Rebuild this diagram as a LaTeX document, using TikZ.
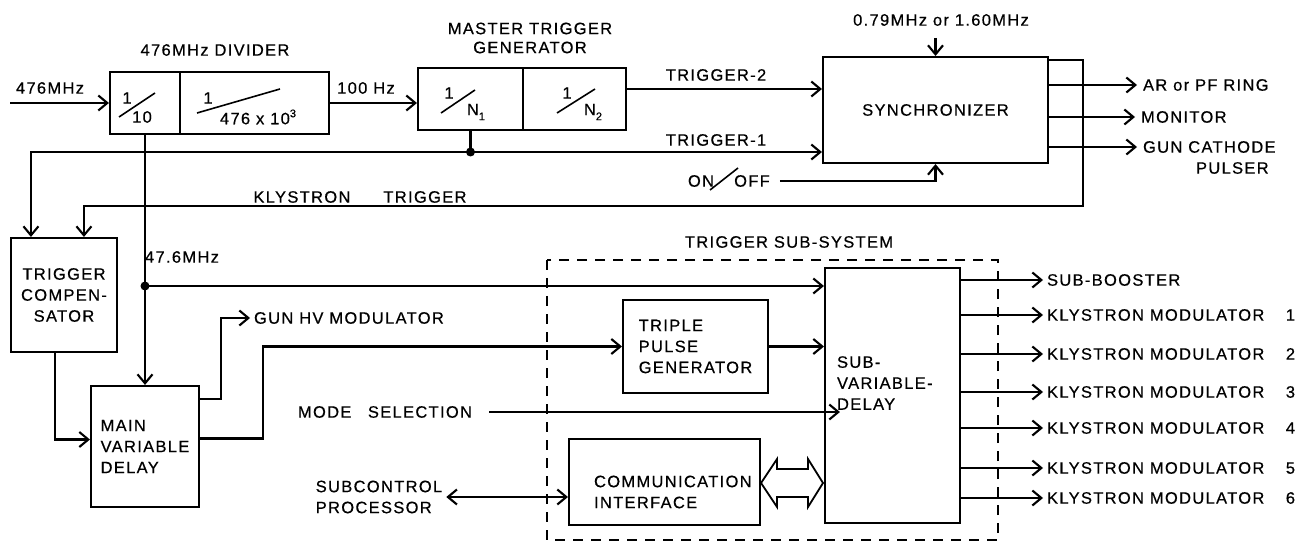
\documentclass[tikz,border=0pt]{standalone}
\usepackage{fontspec}
\setmainfont{Liberation Sans}[LetterSpace=8,FakeBold=0.5]
\usetikzlibrary{arrows.meta,calc}
\begin{document}
\begin{tikzpicture}[x=1pt,y=-1pt,
  line width=2.1pt,
  every node/.style={font=\fontsize{16.5}{21}\selectfont, inner sep=0pt},
  blk/.style={draw, rectangle, inner sep=0pt, align=center},
  arr/.style={-{Straight Barb[length=9pt,width=15pt]}},
  dbl/.style={{Straight Barb[length=9pt,width=15pt]}-{Straight Barb[length=9pt,width=15pt]}},
  lbl/.style={anchor=west},
  frac/.style={line width=1.6pt},
]
\useasboundingbox (0,0) rectangle (1298,545);

% ---- blocks
\node[blk, minimum width=70pt, minimum height=62pt] (divA) at (145,103) {};
\node[blk, minimum width=149pt, minimum height=62pt] (divB) at (254.5,103) {};
\node[blk, minimum width=105pt, minimum height=62pt] (mtgA) at (470.5,99) {};
\node[blk, minimum width=103pt, minimum height=62pt] (mtgB) at (574.5,99) {};
\node[blk, minimum width=225pt, minimum height=106pt] (sync) at (935.5,110) {SYNCHRONIZER};
\node[blk, minimum width=106pt, minimum height=114pt] (tcomp) at (64,295) {TRIGGER\\COMPEN-\\SATOR};
\node[blk, minimum width=108pt, minimum height=121pt, align=left] (mvd) at (145,446.5) {MAIN\\VARIABLE\\DELAY};
\node[blk, minimum width=145pt, minimum height=93pt, align=left] (tpg) at (695.5,346.5) {TRIPLE\\PULSE\\GENERATOR};
\node[blk, minimum width=135pt, minimum height=255pt] (svd) at (892.5,395.5) {};
\node[anchor=west, align=left] (svdt) at (836,383) {SUB-\\VARIABLE-\\DELAY};
\node[blk, minimum width=191pt, minimum height=86pt] (comm) at (664.5,482) {};
\node[anchor=west, align=left] (commt) at (593,492) {COMMUNICATION\\INTERFACE};

% ---- fractions
\node (f1n) at (127,98) {1};
\node (f1d) at (142,117) {10};
\draw[frac] (119,117) -- (155,93);
\node (f2n) at (208,98) {1};
\node (f2d) at (258,117) {476 x 10\raisebox{7pt}{\fontsize{11}{11}\selectfont 3}};
\draw[frac] (197,113) -- (280,89);
\node (n1n) at (449,93) {1};
\node (n1d) at (476,112) {N\raisebox{-5pt}{\fontsize{11}{11}\selectfont 1}};
\draw[frac] (441,113) -- (475,90);
\node (n2n) at (567,93) {1};
\node (n2d) at (593,112) {N\raisebox{-5pt}{\fontsize{11}{11}\selectfont 2}};
\draw[frac] (557,113) -- (595,89);

% ---- titles and labels
\node (divT) at (215,50) {476MHz DIVIDER};
\node[align=center, font=\fontsize{16.5}{19}\selectfont] (mtgT) at (530,38) {MASTER TRIGGER\\GENERATOR};
\node (in476) at (50,88) {476MHz};
\node (hz) at (366,88) {100 Hz};
\node (t2) at (716,75) {TRIGGER-2};
\node (t1) at (716,140) {TRIGGER-1};
\node (freq) at (941,20) {0.79MHz or 1.60MHz};
\node (on) at (701,181) {ON};
\node (off) at (752,181) {OFF};
\draw[frac] (710,190) -- (738,168);
\node (kt) at (360,197) {KLYSTRON\hspace{2em}TRIGGER};
\node (f47) at (182,257) {47.6MHz};
\node[lbl] (ghv) at (253,318) {GUN HV MODULATOR};
\node (mode) at (385,412) {MODE\hspace{1em}SELECTION};
\node[align=left] (scp) at (379,497) {SUBCONTROL\\PROCESSOR};
\node (tss) at (789,242) {TRIGGER SUB-SYSTEM};
\node[lbl] (ar) at (1142,85) {AR or PF RING};
\node[lbl] (mon) at (1140,117) {MONITOR};
\node[lbl] (gc) at (1142,147) {GUN CATHODE};
\node[lbl] (pul) at (1195,168) {PULSER};
\node[lbl] (sb) at (1046,280) {SUB-BOOSTER};
\foreach \y/\i in {315/1,354/2,392/3,428/4,468/5,498/6}
  \node[lbl] (km\i) at (1046,\y) {\makebox[248pt][l]{KLYSTRON MODULATOR\hfill \i}};

% ---- coordinates
\coordinate (inp) at (10,103);
\coordinate (t1dot) at (470.5,152);
\coordinate (fa) at (935.5,38);
\coordinate (kr) at (1083,206);
\coordinate (d47) at (145,286);
\coordinate (tj) at (263,346.5);

% ---- connectors
\draw[arr] (inp) -- (divA.west);
\draw[arr] (divB.east) -- (divB.east -| mtgA.west);
\draw[arr] ([yshift=10pt]mtgB.east) -- ([yshift=10pt]mtgB.east -| sync.west);
\draw (mtgA.south) -- (t1dot);
\fill (t1dot) circle (4.5pt);
\draw[arr] (t1dot) -- (t1dot -| sync.west);
\draw[arr] (t1dot) -| ([xshift=21pt]tcomp.north west);
\draw[arr] (fa) -- (sync.north);
\draw[arr] ([xshift=9pt]off.east) -| (sync.south);
\draw[arr] ([yshift=-4pt]sync.north east) -| (kr) -| ([xshift=74pt]tcomp.north west);
\foreach \n in {ar,mon,gc}
  \draw[arr] (sync.east |- \n.west) -- ([xshift=-5pt]\n.west);
\draw[arr] ([xshift=-9pt]tcomp.south) |- ([yshift=7pt]mvd.west);
\draw[arr] (divA.south) -- (mvd.north);
\fill (d47) circle (4.5pt);
\draw[arr] (d47) -- (d47 -| svd.west);
\draw[arr] ([yshift=-14pt]mvd.north east) -- ++(21,0) |- ([xshift=-3pt]ghv.west);
\draw[arr] ([yshift=8pt]mvd.east) -| (tj) -- (tpg.west);
\draw[arr] (tpg.east) -- (tpg.east -| svd.west);
\draw[arr] ([xshift=16pt]mode.east) -- ([xshift=16pt]mode.east -| svd.west);
\draw[dbl] ([xshift=3pt]scp.east) -- (scp.east -| comm.west);
\draw[line width=1.8pt] (761,483) -- (777,459) -- (777,469) -- (808,469) -- (808,459) -- (823,483) -- (808,507) -- (808,497) -- (777,497) -- (777,507) -- cycle;
\draw[arr] (svd.east |- sb.west) -- ([xshift=-3pt]sb.west);
\foreach \i in {1,...,6}
  \draw[arr] (svd.east |- km\i.west) -- ([xshift=-3pt]km\i.west);

% ---- dashed sub-system frame
\draw[dash pattern=on 10pt off 8pt] (547,260) rectangle (998,540);
\end{tikzpicture}
\end{document}
